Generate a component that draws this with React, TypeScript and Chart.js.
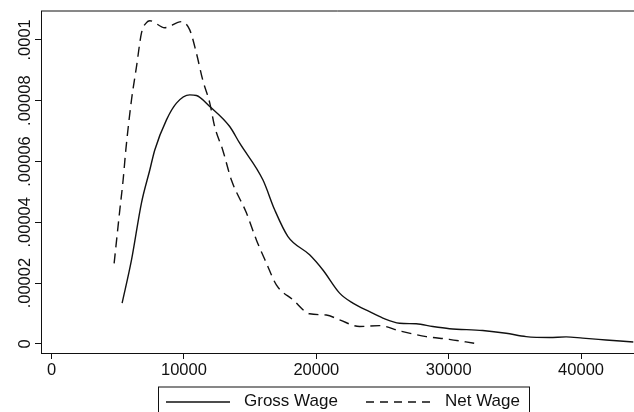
import React, { useEffect, useRef } from "react";
import { Chart, registerables } from "chart.js";

Chart.register(...registerables);

// Gross wage kernel density (x in currency units, y density)
const grossX = [5328, 6038, 6792, 7419, 7796, 8679, 9434, 10438, 10943, 11947, 13457, 14211, 15970, 16853, 17857, 19494, 20498, 21758, 22762, 24023, 25026, 26287, 27547, 28800, 30060, 32574, 34340, 35849, 37608, 38868, 40121, 41887, 43947];
const grossY = [1.34e-5, 2.76e-5, 4.64e-5, 5.72e-5, 6.38e-5, 7.37e-5, 7.92e-5, 8.19e-5, 8.17e-5, 7.81e-5, 7.15e-5, 6.6e-5, 5.39e-5, 4.41e-5, 3.53e-5, 2.93e-5, 2.43e-5, 1.67e-5, 1.34e-5, 1.06e-5, 0.85e-5, 0.68e-5, 0.66e-5, 0.57e-5, 0.5e-5, 0.44e-5, 0.35e-5, 0.24e-5, 0.21e-5, 0.23e-5, 0.19e-5, 0.13e-5, 0.06e-5];

// Net wage kernel density
const netX = [4725, 5155, 5404, 5608, 6038, 6415, 6792, 7170, 7419, 8551, 9811, 10438, 10943, 11419, 11947, 12325, 12928, 13585, 14717, 15472, 16226, 16981, 18234, 19494, 20755, 21758, 23268, 24777, 26287, 28302, 30038, 31925];
const netY = [2.65e-5, 4.41e-5, 5.39e-5, 6.38e-5, 8.03e-5, 9.12e-5, 10.23e-5, 10.57e-5, 10.63e-5, 10.4e-5, 10.6e-5, 10.33e-5, 9.56e-5, 8.68e-5, 7.93e-5, 7.14e-5, 6.38e-5, 5.39e-5, 4.31e-5, 3.42e-5, 2.66e-5, 1.94e-5, 1.45e-5, 0.99e-5, 0.95e-5, 0.79e-5, 0.57e-5, 0.6e-5, 0.43e-5, 0.24e-5, 0.15e-5, 0.02e-5];

const xTickValues = [0, 10000, 20000, 30000, 40000];
const xTickLabels = ["0", "10000", "20000", "30000", "40000"];
const yTickValues = [0, 0.00002, 0.00004, 0.00006, 0.00008, 0.0001];
const yTickLabels = ["0", ".00002", ".00004", ".00006", ".00008", ".0001"];

const seriesNames = ["Gross Wage", "Net Wage"];

const FONT = '"Liberation Sans", Arial, Helvetica, sans-serif';
const INK = "#111";

const framePlugin = {
  id: "stataFrame",
  afterDraw(chart: any) {
    const ctx = chart.ctx;
    const area = chart.chartArea;
    const yScale = chart.scales.y;
    ctx.save();
    // top frame line
    ctx.strokeStyle = INK;
    ctx.lineWidth = 1;
    ctx.beginPath();
    ctx.moveTo(area.left, area.top);
    ctx.lineTo(area.right, area.top);
    ctx.stroke();

    // rotated y tick labels
    ctx.fillStyle = INK;
    ctx.font = `16.5px ${FONT}`;
    ctx.textAlign = "center";
    ctx.textBaseline = "alphabetic";
    yTickValues.forEach((v, i) => {
      const py = yScale.getPixelForValue(v);
      ctx.save();
      ctx.translate(30, py);
      ctx.rotate(-Math.PI / 2);
      ctx.fillText(yTickLabels[i], 0, 0);
      ctx.restore();
    });

    // legend box
    ctx.strokeStyle = INK;
    ctx.lineWidth = 1;
    ctx.strokeRect(158.5, 387, 371, 40);
    const ly = 402;
    ctx.lineWidth = 1.4;
    ctx.setLineDash([]);
    ctx.beginPath();
    ctx.moveTo(166, ly);
    ctx.lineTo(230, ly);
    ctx.stroke();
    ctx.setLineDash([8, 6]);
    ctx.beginPath();
    ctx.moveTo(366, ly);
    ctx.lineTo(432, ly);
    ctx.stroke();
    ctx.setLineDash([]);
    ctx.font = `17px ${FONT}`;
    ctx.textAlign = "left";
    ctx.textBaseline = "alphabetic";
    ctx.fillText(seriesNames[0], 244, 406);
    ctx.fillText(seriesNames[1], 445, 406);
    ctx.restore();
  },
};

export default function App() {
  const ref = useRef<HTMLCanvasElement | null>(null);
  useEffect(() => {
    if (!ref.current) return;
    const chart = new Chart(ref.current, {
      type: "line",
      data: {
        datasets: [
          {
            label: seriesNames[0],
            data: grossX.map((x, i) => ({ x, y: grossY[i] })),
            borderColor: INK,
            borderWidth: 1.4,
            pointRadius: 0,
            fill: false,
            cubicInterpolationMode: "monotone",
          },
          {
            label: seriesNames[1],
            data: netX.map((x, i) => ({ x, y: netY[i] })),
            borderColor: INK,
            borderWidth: 1.4,
            borderDash: [10, 6],
            pointRadius: 0,
            fill: false,
            cubicInterpolationMode: "monotone",
          },
        ],
      },
      options: {
        animation: false,
        responsive: false,
        layout: { padding: { top: 11, left: 0, right: 0, bottom: 0 } },
        plugins: { legend: { display: false }, tooltip: { enabled: false } },
        scales: {
          x: {
            type: "linear",
            min: -800,
            max: 44000,
            afterBuildTicks: (s: any) => {
              s.ticks = xTickValues.map((v) => ({ value: v }));
            },
            afterFit: (s: any) => {
              s.height = 59;
            },
            grid: { drawOnChartArea: false, drawTicks: true, tickLength: 6, color: INK },
            border: { display: true, color: INK, width: 1 },
            ticks: {
              color: INK,
              font: { family: FONT, size: 16.5 },
              padding: 2,
              maxRotation: 0,
              minRotation: 0,
              callback: (v: any) => {
                const i = xTickValues.indexOf(Number(v));
                return i >= 0 ? xTickLabels[i] : "";
              },
            },
          },
          y: {
            type: "linear",
            min: -0.000003,
            max: 0.0001095,
            afterBuildTicks: (s: any) => {
              s.ticks = yTickValues.map((v) => ({ value: v }));
            },
            afterFit: (s: any) => {
              s.width = 41;
            },
            grid: { drawOnChartArea: false, drawTicks: true, tickLength: 6, color: INK },
            border: { display: true, color: INK, width: 1 },
            ticks: { display: false },
          },
        },
      },
      plugins: [framePlugin],
    } as any);
    return () => chart.destroy();
  }, []);
  return (
    <div style={{ position: "fixed", left: 0, top: 0, width: 634, height: 412, background: "#fff" }}>
      <canvas ref={ref} width={634} height={412} style={{ display: "block" }} />
    </div>
  );
}
